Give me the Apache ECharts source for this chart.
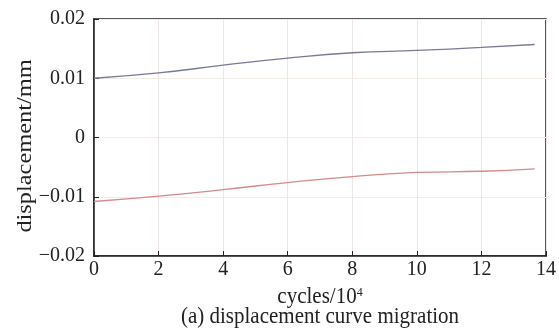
<!DOCTYPE html>
<html>
<head>
<meta charset="utf-8">
<script src="https://cdn.jsdelivr.net/npm/echarts@6/dist/echarts.min.js"></script>
<style>html,body{margin:0;padding:0;background:#fff;}#c{width:559px;height:329px;}</style>
</head>
<body>
<div id="c"></div>
<script>
var cycles = [0, 2, 4, 6, 8, 10, 12, 13.65];
var upperDisp = [0.0100, 0.0109, 0.0122, 0.0134, 0.0143, 0.0147, 0.0152, 0.0157];
var lowerDisp = [-0.0108, -0.0099, -0.0088, -0.0076, -0.0066, -0.0059, -0.0057, -0.0053];
var yTicks = [-0.02, -0.01, 0, 0.01, 0.02];
var xTicks = [0, 2, 4, 6, 8, 10, 12, 14];
var titleText = '(a) displacement curve migration';
var yName = 'displacement/mm';

function pairs(xs, ys) { return xs.map(function (x, i) { return [x, ys[i]]; }); }
var font = 'Liberation Serif';
var chart = echarts.init(document.getElementById('c'));
chart.setOption({
  animation: false,
  graphic: [{
    type: 'text', x: 320, y: 317,
    style: { text: titleText, fontFamily: font, fontSize: 21, fill: '#222', align: 'center', verticalAlign: 'middle' },
    scaleY: 1.1
  }, {
    type: 'text', x: 320, y: 297,
    style: {
      text: '{a|cycles/10}{s|4}', align: 'center', verticalAlign: 'middle',
      rich: {
        a: { fontFamily: font, fontSize: 21, fill: '#222' },
        s: { fontFamily: font, fontSize: 12, fill: '#222', verticalAlign: 'top', padding: [0, 0, 9, 0] }
      }
    },
    scaleY: 1.1
  }, {
    type: 'text', x: 25, y: 146, rotation: Math.PI / 2,
    style: { text: yName, fontFamily: font, fontSize: 21, fill: '#222', align: 'center', verticalAlign: 'middle' },
    scaleX: 1.16
  }],
  grid: { left: 94, right: 11, top: 19, bottom: 73, show: true, borderColor: '#222', borderWidth: 1.5, backgroundColor: 'transparent' },
  xAxis: {
    type: 'value', min: 0, max: 14, interval: 2,
    axisLine: { show: true, onZero: false, lineStyle: { color: '#222', width: 1.5 } },
    axisTick: { show: true, inside: true, length: 5, lineStyle: { color: '#222' } },
    axisLabel: { fontFamily: font, fontSize: 20, color: '#222', margin: 4 },
    splitLine: { show: true, lineStyle: { color: '#eee6e6', width: 1 } }
  },
  yAxis: {
    type: 'value', min: -0.02, max: 0.02, interval: 0.01,
    axisLine: { show: true, onZero: false, lineStyle: { color: '#222', width: 1.5 } },
    axisTick: { show: true, inside: true, length: 5, lineStyle: { color: '#222' } },
    axisLabel: {
      fontFamily: font, fontSize: 20, color: '#222', margin: 9,
      formatter: function (v) { var s = (Math.round(v * 100) / 100).toString(); if (s === '0') return '0'; if (s.length < 4 + (v < 0 ? 1 : 0)) s = s + '0'; return s.replace('-', '\u2212'); }
    },
    splitLine: { show: true, lineStyle: { color: '#f1ece6', width: 1 } }
  },
  series: [
    { type: 'line', data: pairs(cycles, upperDisp), smooth: true, showSymbol: false, lineStyle: { color: '#7a7a98', width: 1.3 } },
    { type: 'line', data: pairs(cycles, lowerDisp), smooth: true, showSymbol: false, lineStyle: { color: '#d48a8a', width: 1.3 } }
  ]
});
</script>
</body>
</html>
